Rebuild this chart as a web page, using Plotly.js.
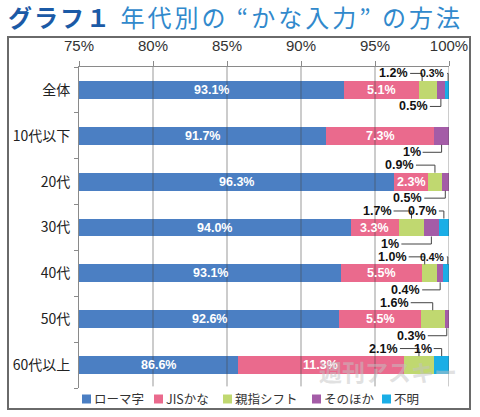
<!DOCTYPE html>
<html>
<head>
<meta charset="utf-8">
<script src="https://cdn.plot.ly/plotly-3.0.1.min.js"></script>
<style>html,body{margin:0;padding:0;background:#fff;}#chart{width:480px;height:417px;}</style>
</head>
<body>
<div id="chart"></div>
<script>
// ---- data ----
const categories = ['全体', '10代以下', '20代', '30代', '40代', '50代', '60代以上'];
const seriesNames = ['ローマ字', 'JISかな', '親指シフト', 'そのほか', '不明'];
const romaji  = [93.1, 91.7, 96.3, 94.0, 93.1, 92.6, 86.6];
const jisKana = [5.1, 7.3, 2.3, 3.3, 5.5, 5.5, 11.3];
const oyayubi = [1.2, 0, 0.9, 1.7, 1.0, 1.6, 2.1];
const sonota  = [0.5, 1, 0.5, 1, 0.4, 0.3, 0];
const fumei   = [0.3, 0, 0, 0.7, 0.4, 0, 1];
const xTickVals = [75, 80, 85, 90, 95, 100];

// ---- styles / layout config ----
const colors = ['#4b7fc3', '#ea6a8d', '#c0d870', '#a45ca7', '#1aaee6'];
const allSeries = [romaji, jisKana, oyayubi, sonota, fumei];
const XR = [75, 100];
const M = {l: 79, r: 31, t: 67, b: 29};
const W = 480, H = 417;
const plotW = W - M.l - M.r, plotH = H - M.t - M.b;
const pxPerUnit = plotW / (XR[1] - XR[0]);
const BARW = 0.39;
const OFF = 0.36;
const legendX = [82, 154, 223, 312, 382];   // px positions of legend swatches
const legendY = 399;

// callout placement: row, series index, side (-1 above, +1 below), lead px, pos along segment, small font, decimals
const callouts = [
  {row: 0, s: 2, side: -1, lead: 12, pos: 0.15},
  {row: 0, s: 4, side: -1, lead: 1, pos: 0.8, small: true},
  {row: 0, s: 3, side: 1, lead: 11},
  {row: 1, s: 3, side: 1, lead: 19},
  {row: 2, s: 2, side: -1, lead: 19},
  {row: 2, s: 3, side: 1, lead: 21},
  {row: 3, s: 2, side: -1, lead: 18},
  {row: 3, s: 4, side: -1, lead: 5},
  {row: 3, s: 3, side: 1, lead: 30},
  {row: 4, s: 2, side: -1, lead: 16, pos: 0.15, dec: 1},
  {row: 4, s: 4, side: -1, lead: 1, pos: 0.8, small: true},
  {row: 4, s: 3, side: 1, lead: 18},
  {row: 5, s: 2, side: -1, lead: 22},
  {row: 5, s: 3, side: 1, lead: 19},
  {row: 6, s: 2, side: -1, lead: 19},
  {row: 6, s: 4, side: -1, lead: 8}
];

const rows = categories.map((_, i) => i);
const totals = rows.map(i => allSeries.reduce((a, s) => a + s[i], 0));
// normalized segment extents (same as barnorm 'percent')
const seg = allSeries.map(() => []);
rows.forEach(i => {
  let c = 0;
  allSeries.forEach((s, k) => {
    const v = s[i] / totals[i] * 100;
    seg[k][i] = [c, c + v];
    c += v;
  });
});
const visAt = (k, i, p) => {
  const a = Math.max(seg[k][i][0], XR[0]), b = Math.min(seg[k][i][1], XR[1]);
  return a + (b - a) * p;
};
const fmt = (v, dec) => (dec ? v.toFixed(dec) : String(v)) + '%';

const traces = allSeries.map((vals, k) => ({
  type: 'bar', orientation: 'h', name: seriesNames[k],
  x: vals, y: rows, width: BARW,
  marker: {color: colors[k], line: {width: 0}},
  hoverinfo: 'skip', showlegend: false
}));

const annotations = [];
const shapes = [];
// in-bar labels for ローマ字 and JISかな
[0, 1].forEach(k => {
  rows.forEach(i => {
    annotations.push({
      x: visAt(k, i, 0.5), y: i, xref: 'x', yref: 'y', showarrow: false,
      text: fmt(allSeries[k][i], 1), xanchor: 'center', yanchor: 'middle',
      font: {family: 'Liberation Sans, Arial, sans-serif', size: 12.5, color: '#ffffff', weight: 'bold'}
    });
  });
});
// callouts
callouts.forEach(c => {
  const cx = visAt(c.s, c.row, c.pos === undefined ? 0.5 : c.pos);
  const yl = c.row + c.side * OFF;
  const yb = c.row + c.side * BARW / 2;
  const x0 = cx - c.lead / pxPerUnit;
  const ln = {color: '#444', width: 1};
  shapes.push({type: 'line', xref: 'x', yref: 'y', x0: cx, x1: cx, y0: yl, y1: yb, line: ln, layer: 'above'});
  shapes.push({type: 'line', xref: 'x', yref: 'y', x0: x0, x1: cx, y0: yl, y1: yl, line: ln, layer: 'above'});
  annotations.push({
    x: x0 - 1 / pxPerUnit, y: yl, xref: 'x', yref: 'y', showarrow: false,
    text: fmt(allSeries[c.s][c.row], c.dec), xanchor: 'right', yanchor: 'middle',
    borderpad: 0,
    font: {family: c.small ? 'Liberation Sans Narrow, Arial Narrow, sans-serif' : 'Liberation Sans, Arial, sans-serif',
           size: c.small ? 10.5 : 12.5, color: '#111', weight: 'bold'}
  });
});
// gridlines drawn over the bars
xTickVals.slice(1).forEach(v => {
  shapes.push({type: 'line', xref: 'x', yref: 'paper', x0: v, x1: v, y0: 0.005, y1: 1,
    line: {color: 'rgba(70,70,70,0.55)', width: 1}, layer: 'above'});
});
const px2x = px => (px - M.l) / plotW;
const px2y = py => (M.t + plotH - py) / plotH;
// outer frame
shapes.push({type: 'rect', xref: 'paper', yref: 'paper',
  x0: px2x(8), x1: px2x(470), y0: px2y(409), y1: px2y(37),
  line: {color: '#6a6a6a', width: 2}, fillcolor: 'rgba(0,0,0,0)', layer: 'below'});
// legend (swatches + names)
seriesNames.forEach((nm, k) => {
  shapes.push({type: 'rect', xref: 'paper', yref: 'paper',
    x0: px2x(legendX[k]), x1: px2x(legendX[k] + 9), y0: px2y(legendY + 4.5), y1: px2y(legendY - 4.5),
    line: {width: 0}, fillcolor: colors[k]});
  annotations.push({xref: 'paper', yref: 'paper', x: px2x(legendX[k] + 10), y: px2y(legendY),
    text: nm, showarrow: false, xanchor: 'left', yanchor: 'middle',
    font: {family: 'Noto Sans CJK JP, sans-serif', size: 12.5, color: '#333'}});
});
// watermark
annotations.push({xref: 'paper', yref: 'paper', x: px2x(388), y: px2y(371),
  text: '週刊アスキー', showarrow: false, xanchor: 'center', yanchor: 'middle',
  font: {family: 'Noto Sans CJK JP, sans-serif', size: 23, color: 'rgba(195,195,195,0.5)', weight: 'bold'}});

const layout = {
  width: W, height: H, margin: M,
  paper_bgcolor: '#ffffff', plot_bgcolor: '#ffffff',
  barmode: 'stack', barnorm: 'percent', bargap: 0,
  title: {
    text: '<b><span style="color:#1b5aa6;letter-spacing:2px">グラフ１</span></b><span style="letter-spacing:3px"> 年代別の “かな入力” の方法</span>',
    x: 8 / W, xanchor: 'left', xref: 'container',
    y: 1 - 19 / H, yanchor: 'middle', yref: 'container',
    font: {family: 'Noto Sans CJK JP, sans-serif', size: 24, color: '#3189cc'}
  },
  xaxis: {
    side: 'top', range: XR, tickvals: xTickVals, ticktext: xTickVals.map(v => v + '%'),
    showgrid: false, zeroline: false, showline: true, linecolor: '#8a8a8a', linewidth: 1,
    ticks: 'outside', ticklen: 5, tickcolor: '#8a8a8a', ticklabelstandoff: 4,
    tickfont: {family: 'Liberation Sans, Arial, sans-serif', size: 15, color: '#333'},
    fixedrange: true
  },
  yaxis: {
    range: [6.5, -0.5], tickvals: rows, ticktext: categories,
    showgrid: false, zeroline: false, showline: true, linecolor: '#8a8a8a', linewidth: 1,
    ticks: '', ticklabelstandoff: 5,
    minor: {tickvals: [-0.5, 0.5, 1.5, 2.5, 3.5, 4.5, 5.5, 6.5], ticks: 'outside', ticklen: 4, tickcolor: '#8a8a8a', showgrid: false},
    tickfont: {family: 'Noto Sans CJK JP, sans-serif', size: 14, color: '#222'},
    fixedrange: true
  },
  showlegend: false,
  annotations: annotations,
  shapes: shapes
};

Plotly.newPlot('chart', traces, layout, {displayModeBar: false, staticPlot: true});
</script>
</body>
</html>
